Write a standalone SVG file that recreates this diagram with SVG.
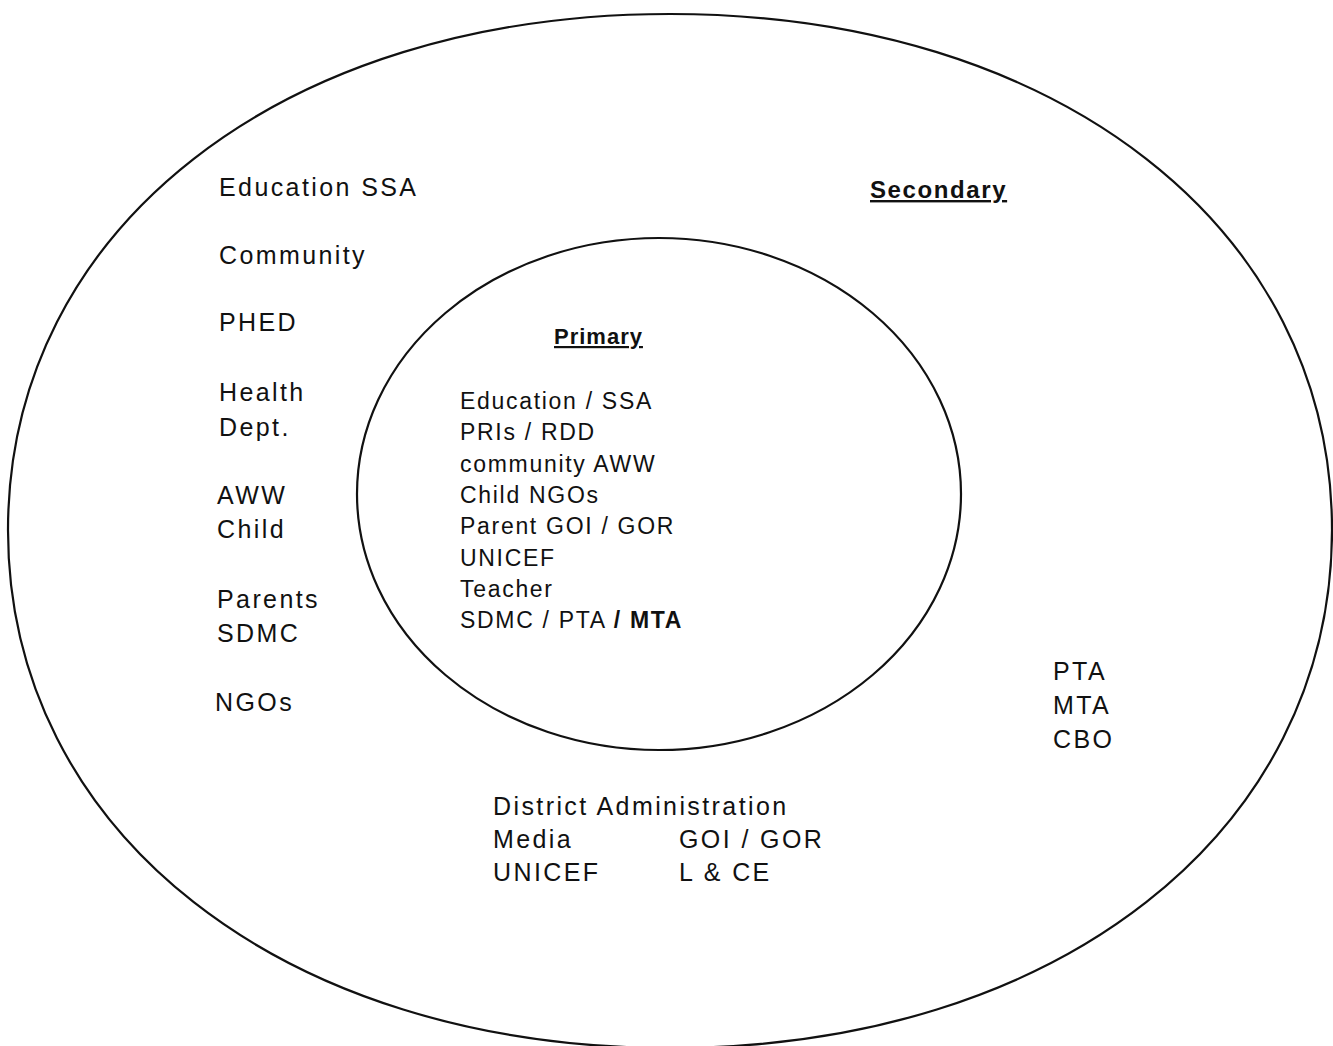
<svg xmlns="http://www.w3.org/2000/svg" width="1333" height="1046" viewBox="0 0 1333 1046">
<style>
.ring{fill:none;stroke:#111;stroke-width:2.2}
.t{font-family:"Liberation Sans",Arial,sans-serif;font-size:25px;fill:#111;letter-spacing:2.4px}
.ti{font-family:"Liberation Sans",Arial,sans-serif;font-size:23px;fill:#111;letter-spacing:1.7px}
.h{font-family:"Liberation Sans",Arial,sans-serif;font-weight:bold;fill:#111;text-decoration:underline}
</style>
<rect width="1333" height="1046" fill="#fff"/>
<g id="secondary">
<path class="ring" d="M1332 530 C1332 228.1 1057.3 14 670 14 C282.7 14 8 228.1 8 530 C8 831.9 282.7 1048 670 1048 C1057.3 1048 1332 831.9 1332 530 Z"/>
<text class="h" x="870" y="198" font-size="24" letter-spacing="1.6">Secondary</text>
<text class="t" x="219" y="196" letter-spacing="2">Education SSA</text>
<text class="t" x="219" y="264">Community</text>
<text class="t" x="219" y="331">PHED</text>
<text class="t" x="219" y="401">Health</text>
<text class="t" x="219" y="436">Dept.</text>
<text class="t" x="217" y="504">AWW</text>
<text class="t" x="217" y="538">Child</text>
<text class="t" x="217" y="608">Parents</text>
<text class="t" x="217" y="642">SDMC</text>
<text class="t" x="215" y="711">NGOs</text>
<text class="t" x="1053" y="680">PTA</text>
<text class="t" x="1053" y="714">MTA</text>
<text class="t" x="1053" y="748">CBO</text>
<text class="t" x="493" y="815">District Administration</text>
<text class="t" x="493" y="848">Media</text>
<text class="t" x="679" y="848">GOI / GOR</text>
<text class="t" x="493" y="881">UNICEF</text>
<text class="t" x="679" y="881">L &amp; CE</text>
</g>
<g id="primary">
<ellipse class="ring" cx="659" cy="494" rx="302" ry="256"/>
<text class="h" x="554" y="344" font-size="22" letter-spacing="1">Primary</text>
<text class="ti" x="460" y="409">Education / SSA</text>
<text class="ti" x="460" y="440">PRIs / RDD</text>
<text class="ti" x="460" y="472">community AWW</text>
<text class="ti" x="460" y="503">Child NGOs</text>
<text class="ti" x="460" y="534">Parent GOI / GOR</text>
<text class="ti" x="460" y="566">UNICEF</text>
<text class="ti" x="460" y="597">Teacher</text>
<text class="ti" x="460" y="628">SDMC / PTA <tspan font-weight="bold">/ MTA</tspan></text>
</g>
<g id="connectors"/>
</svg>
